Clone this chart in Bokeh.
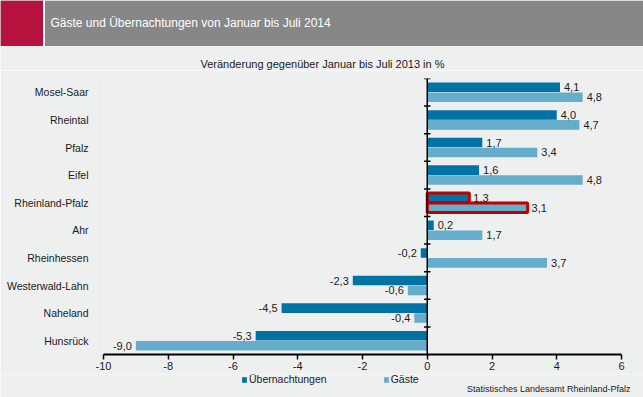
from bokeh.plotting import figure
from bokeh.layouts import column
from bokeh.models import (ColumnDataSource, Range1d, FixedTicker, Span, BoxAnnotation,
                          Label, Legend, LegendItem)
from bokeh.core.properties import value
from bokeh.embed import file_html
from bokeh.resources import INLINE

# ---------------- data ----------------
categories = ["Mosel-Saar", "Rheintal", "Pfalz", "Eifel", "Rheinland-Pfalz",
              "Ahr", "Rheinhessen", "Westerwald-Lahn", "Naheland", "Hunsrück"]
uebernachtungen = [4.1, 4.0, 1.7, 1.6, 1.3, 0.2, -0.2, -2.3, -4.5, -5.3]
gaeste = [4.8, 4.7, 3.4, 4.8, 3.1, 1.7, 3.7, -0.6, -0.4, -9.0]
series_names = ["Übernachtungen", "Gäste"]
x_ticks = [-10, -8, -6, -4, -2, 0, 2, 4, 6]
highlight = "Rheinland-Pfalz"
title_text = "Gäste und Übernachtungen von Januar bis Juli 2014"
subtitle_text = "Veränderung gegenüber Januar bis Juli 2013 in %"
source_text = "Statistisches Landesamt Rheinland-Pfalz"

# ---------------- style ----------------
W, H = 643, 397
HEAD_H, FOOT_H = 70, 23
MAIN_H = H - HEAD_H - FOOT_H
BG = "#EEF0F0"
GREY = "#878787"
CRIMSON = "#B5123E"
DARK = "#0072A3"
LIGHT = "#66ADCB"
RED = "#C00000"
TXT = "#1a1a1a"
FONT = "Liberation Sans"
OFF = 0.18
BAR_H = 0.345

n = len(categories)
centers = [n - i - 0.5 for i in range(n)]

def fmt(v):
    return f"{v:.1f}".replace(".", ",")

def make_src(vals, off):
    return dict(
        cat=categories,
        y=[c + off for c in centers],
        v=vals,
        lbl=[fmt(v) for v in vals],
        xo=[4 if v >= 0 else -4 for v in vals],
        al=["left" if v >= 0 else "right" for v in vals],
    )

d_u = make_src(uebernachtungen, OFF)
d_g = make_src(gaeste, -OFF)

def subset(d, keep):
    idx = [i for i, c in enumerate(d["cat"]) if (c == highlight) == keep]
    return ColumnDataSource({k: [vv[i] for i in idx] for k, vv in d.items()})

def bare(height):
    f = figure(width=W, height=height, x_range=Range1d(0, W), y_range=Range1d(0, height),
               x_axis_type=None, y_axis_type=None, output_backend="svg", toolbar_location=None,
               min_border=0, background_fill_color=BG, border_fill_color=BG,
               outline_line_color=None, frame_align=False)
    f.grid.visible = False
    return f

# ---------------- header ----------------
ph = bare(HEAD_H)
band_bottom = HEAD_H - 45.5
ph.add_layout(BoxAnnotation(left=0, right=W, bottom=band_bottom, fill_color=GREY,
                            fill_alpha=1, line_color=None))
ph.add_layout(BoxAnnotation(left=42.5, right=44.5, bottom=band_bottom, fill_color="white",
                            fill_alpha=1, line_color=None))
ph.add_layout(BoxAnnotation(left=0, right=42.5, bottom=band_bottom, fill_color=CRIMSON,
                            fill_alpha=1, line_color=None))
ph.add_layout(Label(x=50, y=HEAD_H - 22, text=title_text, text_color="white",
                    text_font=FONT, text_font_size="12px", text_baseline="middle"))
ph.add_layout(Label(x=322, y=HEAD_H - 63, text=subtitle_text, text_color=TXT,
                    text_font=FONT, text_font_size="11px", text_baseline="middle",
                    text_align="center"))

# ---------------- main chart ----------------
p = figure(width=W, height=MAIN_H, x_range=Range1d(x_ticks[0], x_ticks[-1]),
           y_range=Range1d(0, n), output_backend="svg", toolbar_location=None,
           min_border_left=103, min_border_right=22, min_border_top=78 - HEAD_H,
           min_border_bottom=(H - FOOT_H) - 354, frame_align=False,
           background_fill_color=BG, border_fill_color=BG, outline_line_color=None)

p.hbar(y="y", left=0, right="v", height=BAR_H, source=subset(d_u, False),
       fill_color=DARK, line_color=None)
p.hbar(y="y", left=0, right="v", height=BAR_H, source=subset(d_g, False),
       fill_color=LIGHT, line_color=None)
p.hbar(y="y", left=0, right="v", height=BAR_H, source=subset(d_u, True),
       fill_color=DARK, line_color=RED, line_width=3)
p.hbar(y="y", left=0, right="v", height=BAR_H, source=subset(d_g, True),
       fill_color=LIGHT, line_color=RED, line_width=3)

for d in (d_u, d_g):
    p.text(x="v", y="y", text="lbl", x_offset="xo", text_align="al", source=ColumnDataSource(d),
           text_baseline="middle", text_font=value(FONT), text_font_size="11px",
           text_color=TXT)

p.add_layout(Span(location=0, dimension="height", line_color="black", line_width=1.5))
bounds = [float(b) for b in range(1, n + 1)]
p.segment(x0=[-0.1] * len(bounds), x1=[0.1] * len(bounds), y0=bounds, y1=bounds,
          line_color="black", line_width=1.5)

p.grid.visible = False
xa = p.xaxis[0]
xa.ticker = FixedTicker(ticks=x_ticks)
xa.major_label_overrides = {t: str(t) for t in x_ticks}
xa.axis_line_width = 2
xa.axis_line_color = "black"
xa.major_tick_in = 0
xa.major_tick_out = 5
xa.major_tick_line_width = 1.5
xa.minor_tick_line_color = None
xa.major_label_text_font = FONT
xa.major_label_text_font_size = "11px"
xa.major_label_text_color = TXT
xa.major_label_standoff = 2

ya = p.yaxis[0]
ya.ticker = FixedTicker(ticks=centers)
ya.major_label_overrides = {c: name for c, name in zip(centers, categories)}
ya.axis_line_color = None
ya.major_tick_line_color = None
ya.minor_tick_line_color = None
ya.major_label_standoff = 9
ya.major_label_text_font = FONT
ya.major_label_text_font_size = "10.5px"
ya.major_label_text_color = TXT

# ---------------- footer: legend + source ----------------
pf = bare(FOOT_H)
lr_u = pf.hbar(y="y", left=0, right="v", height=BAR_H, source=ColumnDataSource(d_u),
               fill_color=DARK, line_color=None, visible=False)
lr_g = pf.hbar(y="y", left=0, right="v", height=BAR_H, source=ColumnDataSource(d_g),
               fill_color=LIGHT, line_color=None, visible=False)
legend = Legend(items=[LegendItem(label=series_names[0], renderers=[lr_u]),
                       LegendItem(label=series_names[1], renderers=[lr_g])],
                orientation="horizontal", location=(241, 12),
                glyph_width=6, glyph_height=7, label_standoff=2, spacing=56,
                padding=0, margin=0, border_line_color=None, background_fill_alpha=0,
                label_text_font=FONT, label_text_font_size="10.5px", label_height=7,
                label_text_color=TXT)
pf.add_layout(legend)
pf.add_layout(Label(x=630, y=H - 388, text=source_text, text_color=TXT, text_font=FONT,
                    text_font_size="9px", text_baseline="middle", text_align="right"))

layout = column(ph, p, pf, spacing=0)
open("out.html", "w").write(file_html(layout, INLINE))
